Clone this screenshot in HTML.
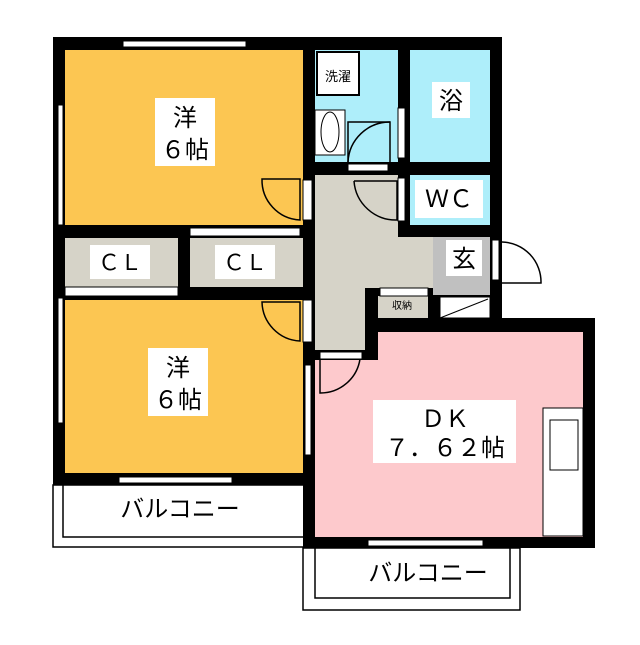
<!DOCTYPE html>
<html><head><meta charset="utf-8"><style>
html,body{margin:0;padding:0;background:#fff}
text{font-family:"Liberation Sans","Noto Sans CJK JP",sans-serif;fill:#000}
</style></head><body>
<svg width="640" height="640" viewBox="0 0 640 640" xmlns="http://www.w3.org/2000/svg">
<rect x="53" y="485" width="252" height="62" fill="#fff" stroke="#000" stroke-width="1.5"/>
<polyline points="63,485 63,537 303,537" fill="none" stroke="#000" stroke-width="1.5"/>
<rect x="303" y="548" width="217" height="62" fill="#fff" stroke="#000" stroke-width="1.5"/>
<polyline points="315,548 315,598 510,598 510,548" fill="none" stroke="#000" stroke-width="1.5"/>
<rect x="53" y="37" width="262" height="448" fill="#000"/>
<rect x="303" y="37" width="199" height="281" fill="#000"/>
<rect x="303" y="318" width="292" height="230" fill="#000"/>
<rect x="65" y="50" width="238" height="175" fill="#fcc652"/>
<rect x="65" y="300" width="238" height="173" fill="#fcc652"/>
<rect x="65" y="238" width="113" height="49" fill="#d6d3c8"/>
<rect x="190" y="238" width="113" height="49" fill="#d6d3c8"/>
<rect x="315" y="50" width="83" height="112" fill="#aeeefa"/>
<rect x="410" y="50" width="80" height="112" fill="#aeeefa"/>
<rect x="410" y="175" width="80" height="50" fill="#aeeefa"/>
<path d="M315 175 H398 V237 H433 V288 H365 V350 H315 Z" fill="#d6d3c8"/>
<rect x="378" y="296" width="50" height="22" fill="#d6d3c8"/>
<rect x="433" y="237" width="57" height="58" fill="#c0c0c0"/>
<rect x="440" y="297" width="50" height="21" fill="#fff" stroke="#000"/>
<line x1="440" y1="318" x2="488" y2="299" stroke="#000"/>
<path d="M378 332 H583 V537 H315 V360 H378 Z" fill="#fdc9cc"/>
<g fill="#fff" stroke="#000" stroke-width="1">
<rect x="123" y="41" width="123" height="6"/><rect x="58" y="105" width="5" height="120"/>
<rect x="58" y="298" width="5" height="125"/><rect x="119" y="477" width="113" height="6"/>
<rect x="368" y="540" width="115" height="6"/><rect x="305" y="365" width="6" height="90"/>
<rect x="65" y="287" width="113" height="9"/><rect x="190" y="228" width="110" height="8"/>
<rect x="303" y="180" width="9" height="40"/><rect x="303" y="300" width="9" height="42"/>
<rect x="398" y="108" width="7" height="50"/><rect x="398" y="178" width="7" height="43"/>
<rect x="348" y="164" width="40" height="7"/><rect x="320" y="352" width="42" height="7"/>
<rect x="380" y="288" width="48" height="8"/><rect x="492" y="240" width="7" height="40"/>
</g>
<g fill="none" stroke="#000" stroke-width="1.5">
<path d="M262 179 H300 V220 A40 40 0 0 1 262 179 Z"/>
<path d="M262 302 H300 V341 A40 40 0 0 1 262 302 Z"/>
<path d="M348 162 V122 H390 V162"/><path d="M348 162 A42 42 0 0 1 390 122"/>
<path d="M354 181 H397 V220 A42 42 0 0 1 354 181"/>
<path d="M320 359 V393 A40 40 0 0 0 360 359"/>
<path d="M502 242 A40 40 0 0 1 541 283 H502"/>
</g>
<rect x="317" y="52" width="42" height="43" fill="#fff" stroke="#000" stroke-width="2"/>
<rect x="315" y="110" width="30" height="45" fill="#fff" stroke="#000"/>
<ellipse cx="330" cy="132" rx="9" ry="20" fill="none" stroke="#000"/>
<rect x="543" y="408" width="40" height="128" fill="#fff" stroke="#000"/>
<rect x="550" y="420" width="28" height="50" fill="#fff" stroke="#000"/>
<g fill="#fff"><rect x="155" y="98" width="60" height="68"/><rect x="148" y="348" width="60" height="68"/>
<rect x="90" y="245" width="60" height="34"/><rect x="215" y="245" width="60" height="34"/>
<rect x="432" y="82" width="38" height="36"/><rect x="415" y="180" width="68" height="38"/>
<rect x="446" y="240" width="36" height="36"/><rect x="373" y="400" width="143" height="63"/></g>
<text x="185" y="126" font-size="24" text-anchor="middle">洋</text>
<text x="185" y="158" font-size="24" text-anchor="middle">６帖</text>
<text x="178" y="376" font-size="24" text-anchor="middle">洋</text>
<text x="178" y="408" font-size="24" text-anchor="middle">６帖</text>
<text x="120" y="270" font-size="22" text-anchor="middle">ＣＬ</text>
<text x="245" y="270" font-size="22" text-anchor="middle">ＣＬ</text>
<text x="338" y="81" font-size="13" text-anchor="middle">洗濯</text>
<text x="451" y="109" font-size="24" text-anchor="middle">浴</text>
<text x="449" y="207" font-size="24" text-anchor="middle">ＷＣ</text>
<text x="464" y="267" font-size="24" text-anchor="middle">玄</text>
<text x="402" y="309" font-size="10" text-anchor="middle">収納</text>
<text x="445" y="427" font-size="24" text-anchor="middle">ＤＫ</text>
<text x="445" y="456" font-size="24" text-anchor="middle">７．６２帖</text>
<text x="180" y="517" font-size="24" text-anchor="middle">バルコニー</text>
<text x="428" y="581" font-size="24" text-anchor="middle">バルコニー</text>
</svg>
</body></html>
